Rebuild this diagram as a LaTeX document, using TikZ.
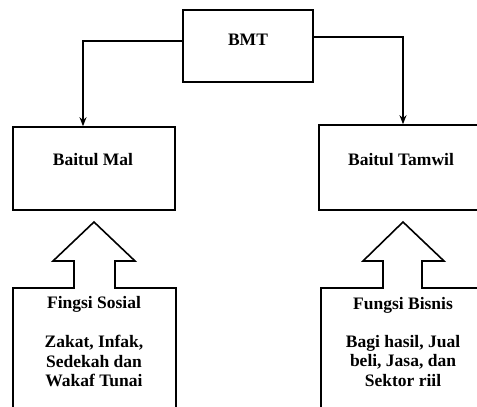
\documentclass[tikz,border=0pt]{standalone}
\usepackage{fontspec}
\setmainfont{Liberation Serif}
\usetikzlibrary{arrows.meta}
\begin{document}
\begin{tikzpicture}[x=1pt,y=-1pt,
  box/.style={draw,line width=1.6pt,inner sep=0pt},
  lbl/.style={font=\bfseries\fontsize{17.5}{19.5}\selectfont,inner sep=0pt,align=center},
  conn/.style={line width=1.6pt,-{Stealth[length=9pt,width=7pt]}},
  callout/.style={draw,line width=1.6pt,line join=miter}]
\clip (0,0) rectangle (477,407);
\fill[white] (0,0) rectangle (477,407);
% boxes
\node[box,minimum width=130pt,minimum height=72pt] (bmt) at (248,46) {};
\node[lbl] (bmttext) at (248,40) {BMT};
\node[box,minimum width=162pt,minimum height=83pt] (mal) at (94,168.5) {};
\node[lbl] (maltext) at (93,160) {Baitul Mal};
\node[box,minimum width=168pt,minimum height=85pt] (tamwil) at (403,167.5) {};
\node[lbl] (tamwiltext) at (401,160) {Baitul Tamwil};
% connectors
\draw[conn] ([yshift=5pt]bmt.west) -| ([xshift=-11pt]mal.north);
\draw[conn] ([yshift=9pt]bmt.east) -| (tamwil.north);
% callouts
\draw[callout] (13,412) -- (13,288) -- (74,288) -- (74,261) -- (53,261) -- (94,222) -- (135,261) -- (115,261) -- (115,288) -- (176,288) -- (176,412);
\draw[callout] (321,412) -- (321,288) -- (383,288) -- (383,261) -- (363,261) -- (403,222) -- (444,261) -- (422,261) -- (422,288) -- (487,288);
\node[lbl] (sosial) at (94,304) {Fingsi Sosial};
\node[lbl] (sosialbody) at (94,361) {Zakat, Infak,\\Sedekah dan\\Wakaf Tunai};
\node[lbl] (bisnis) at (403,305) {Fungsi Bisnis};
\node[lbl] (bisnisbody) at (403,361) {Bagi hasil, Jual\\beli, Jasa, dan\\Sektor riil};
\end{tikzpicture}
\end{document}
